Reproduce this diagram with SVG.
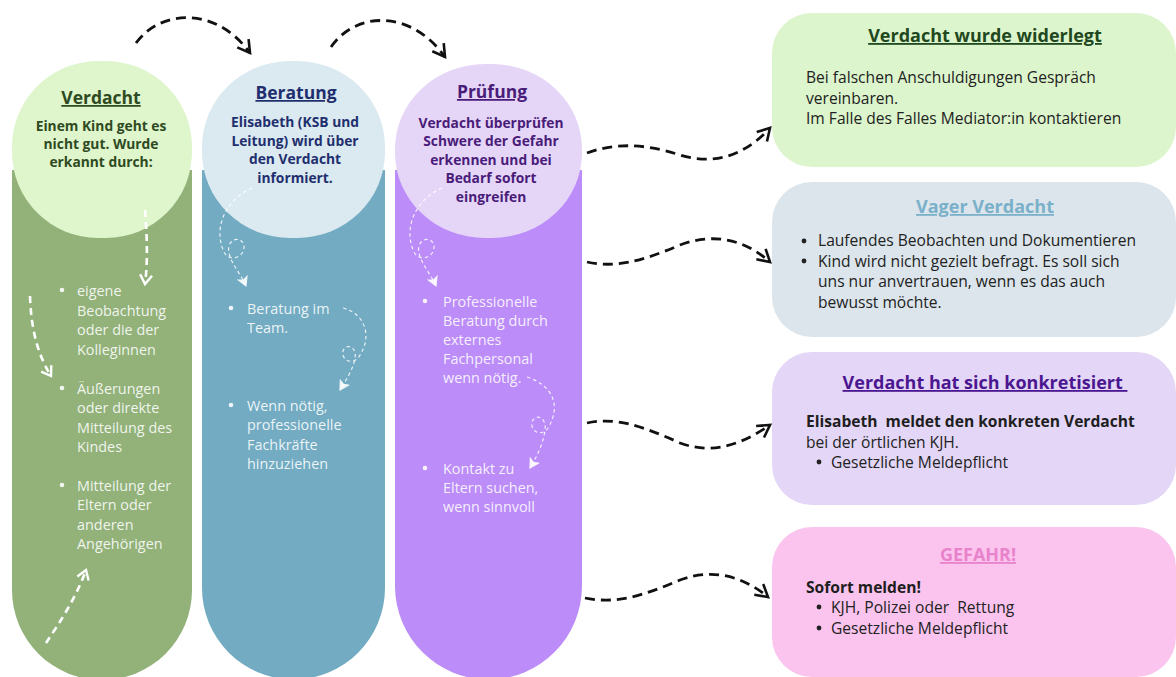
<svg xmlns="http://www.w3.org/2000/svg" width="1176" height="677" viewBox="0 0 1176 677">
<style>
  text { font-family: "Open Sans", "Noto Sans", "DejaVu Sans", sans-serif; }
  .h { font-weight: 700; font-size: 17.5px; text-anchor: middle; text-decoration: underline; }
  .cb { font-weight: 700; font-size: 13.8px; text-anchor: middle; }
  .bl { font-size: 14.4px; fill: #ffffff; fill-opacity: 0.88; }
  .rt { font-weight: 700; font-size: 18px; text-anchor: middle; text-decoration: underline; }
  .rb { font-size: 15.6px; fill: #222222; }
  .rbb { font-size: 15.6px; fill: #1e1e1e; font-weight: 700; }
  .conn { fill: none; stroke: #111111; stroke-width: 2.8; stroke-dasharray: 10 6; stroke-linecap: butt; }
  .wd { fill: none; stroke: #ffffff; stroke-width: 2.6; stroke-dasharray: 7 5; }
  .wt { fill: none; stroke: #ffffff; stroke-opacity: 0.85; stroke-width: 1.2; stroke-dasharray: 3.5 3; }
</style>
<defs>
  <marker id="ah" markerUnits="userSpaceOnUse" markerWidth="20" markerHeight="20" refX="14" refY="8" orient="auto" viewBox="0 0 20 16">
    <path d="M2,1 L14,8 L2,15" fill="none" stroke="#111111" stroke-width="2.6" stroke-linejoin="miter"/>
  </marker>
  <marker id="wh" markerUnits="userSpaceOnUse" markerWidth="16" markerHeight="16" refX="11" refY="7" orient="auto" viewBox="0 0 16 14">
    <path d="M2,1 L11,7 L2,13" fill="none" stroke="#ffffff" stroke-width="2.4"/>
  </marker>
  <marker id="wf" markerUnits="userSpaceOnUse" markerWidth="12" markerHeight="12" refX="8" refY="5" orient="auto" viewBox="0 0 10 10">
    <path d="M0,0 L9,5 L0,10 L2,5 Z" fill="#ffffff" fill-opacity="0.9"/>
  </marker>
</defs>

<rect width="1176" height="677" fill="#ffffff"/>

<!-- Column 1: Verdacht -->
<g id="node-verdacht">
  <path d="M12,170 H192 V590 A90,90 0 0 1 12,590 Z" fill="#92b27a"/>
  <rect x="12" y="61" width="180" height="177" rx="86" ry="86" fill="#dff5cc"/>
  <text class="h" x="101" y="104" fill="#2e4a22">Verdacht</text>
  <text class="cb" x="101" y="131" fill="#2e4a22">Einem Kind geht es</text>
  <text class="cb" x="101" y="149" fill="#2e4a22">nicht gut. Wurde</text>
  <text class="cb" x="101" y="167" fill="#2e4a22">erkannt durch:</text>
  <g class="bl">
    <circle cx="62" cy="290" r="2.3" fill="#ffffff"/>
    <text x="77" y="296">eigene</text>
    <text x="77" y="315.5">Beobachtung</text>
    <text x="77" y="335">oder die der</text>
    <text x="77" y="354.5">Kolleginnen</text>
    <circle cx="62" cy="388" r="2.3" fill="#ffffff"/>
    <text x="77" y="393.5">Äußerungen</text>
    <text x="77" y="413">oder direkte</text>
    <text x="77" y="432.5">Mitteilung des</text>
    <text x="77" y="452">Kindes</text>
    <circle cx="62" cy="485" r="2.3" fill="#ffffff"/>
    <text x="77" y="490.5">Mitteilung der</text>
    <text x="77" y="510">Eltern oder</text>
    <text x="77" y="529.5">anderen</text>
    <text x="77" y="549">Angehörigen</text>
  </g>
  <path class="wd" d="M145,210 C147,235 148,260 145,284" marker-end="url(#wh)"/>
  <path class="wd" d="M30,296 C31,325 36,352 51,376" marker-end="url(#wh)"/>
  <path class="wd" d="M46,643 C60,622 76,598 86,570" marker-end="url(#wh)"/>
</g>

<!-- Column 2: Beratung -->
<g id="node-beratung">
  <path d="M202,170 H385 V588 A91.5,91.5 0 0 1 202,588 Z" fill="#72abc2"/>
  <rect x="202" y="61" width="183" height="177" rx="88" ry="86" fill="#dbe9f1"/>
  <text class="h" x="296" y="99" fill="#1f2f6e">Beratung</text>
  <text class="cb" x="295" y="127" fill="#1f2f6e">Elisabeth (KSB und</text>
  <text class="cb" x="295" y="145.5" fill="#1f2f6e">Leitung) wird über</text>
  <text class="cb" x="295" y="164" fill="#1f2f6e">den Verdacht</text>
  <text class="cb" x="295" y="182.5" fill="#1f2f6e">informiert.</text>
  <g class="bl">
    <circle cx="231" cy="308" r="2.3" fill="#ffffff"/>
    <text x="247" y="313.5">Beratung im</text>
    <text x="247" y="333">Team.</text>
    <circle cx="231" cy="405" r="2.3" fill="#ffffff"/>
    <text x="247" y="410.5">Wenn nötig,</text>
    <text x="247" y="430">professionelle</text>
    <text x="247" y="449.5">Fachkräfte</text>
    <text x="247" y="469">hinzuziehen</text>
  </g>
  <path class="wt" d="M252,188 C228,198 212,226 224,252 C229,262 243,258 244,248 C245,238 232,236 229,246 C226,258 240,272 246,286" marker-end="url(#wf)"/>
  <path class="wt" d="M343,308 C366,314 373,338 358,358 C352,365 341,360 343,351 C346,343 357,346 355,358 C353,370 346,380 340,390" marker-end="url(#wf)"/>
</g>

<!-- Column 3: Prüfung -->
<g id="node-pruefung">
  <path d="M395,170 H582 V586 A93.5,93.5 0 0 1 395,586 Z" fill="#bc8cf8"/>
  <rect x="395" y="64" width="187" height="174" rx="90" ry="85" fill="#e5d6f8"/>
  <text class="h" x="492" y="98" fill="#4a1c79">Prüfung</text>
  <text class="cb" x="491" y="127.5" fill="#4a1c79">Verdacht überprüfen</text>
  <text class="cb" x="491" y="146" fill="#4a1c79">Schwere der Gefahr</text>
  <text class="cb" x="491" y="164.5" fill="#4a1c79">erkennen und bei</text>
  <text class="cb" x="491" y="183" fill="#4a1c79">Bedarf sofort</text>
  <text class="cb" x="491" y="201.5" fill="#4a1c79">eingreifen</text>
  <g class="bl">
    <circle cx="425" cy="301" r="2.3" fill="#ffffff"/>
    <text x="443" y="306.5">Professionelle</text>
    <text x="443" y="325.5">Beratung durch</text>
    <text x="443" y="344.5">externes</text>
    <text x="443" y="363.5">Fachpersonal</text>
    <text x="443" y="382.5">wenn nötig.</text>
    <circle cx="425" cy="468" r="2.3" fill="#ffffff"/>
    <text x="443" y="474">Kontakt zu</text>
    <text x="443" y="493">Eltern suchen,</text>
    <text x="443" y="512">wenn sinnvoll</text>
  </g>
  <path class="wt" d="M442,188 C418,198 402,226 414,252 C419,262 433,258 434,248 C435,238 422,236 419,246 C416,258 430,272 436,286" marker-end="url(#wf)"/>
  <path class="wt" d="M527,377 C552,385 562,405 548,428 C542,437 530,432 532,422 C535,413 547,417 545,430 C543,445 536,458 530,468" marker-end="url(#wf)"/>
</g>

<!-- Right boxes -->
<g id="node-widerlegt">
  <rect x="772" y="13" width="404" height="154" rx="40" fill="#dcf5cc"/>
  <text class="rt" x="985" y="42" fill="#1f4820">Verdacht wurde widerlegt</text>
  <text class="rb" x="806" y="83">Bei falschen Anschuldigungen Gespräch</text>
  <text class="rb" x="806" y="104">vereinbaren.</text>
  <text class="rb" x="806" y="124">Im Falle des Falles Mediator:in kontaktieren</text>
</g>

<g id="node-vager">
  <rect x="772" y="182" width="404" height="155" rx="40" fill="#dbe5eb"/>
  <text class="rt" x="985" y="213" fill="#7ab0c9">Vager Verdacht</text>
  <circle cx="804" cy="241" r="2.4" fill="#222222"/>
  <text class="rb" x="818" y="246">Laufendes Beobachten und Dokumentieren</text>
  <circle cx="804" cy="261" r="2.4" fill="#222222"/>
  <text class="rb" x="818" y="266.5">Kind wird nicht gezielt befragt. Es soll sich</text>
  <text class="rb" x="818" y="287">uns nur anvertrauen, wenn es das auch</text>
  <text class="rb" x="818" y="308">bewusst möchte.</text>
</g>

<g id="node-konkret">
  <rect x="772" y="352" width="404" height="153" rx="40" fill="#e3d6f6"/>
  <text class="rt" x="985" y="389" fill="#4b1690" xml:space="preserve">Verdacht hat sich konkretisiert </text>
  <text class="rbb" x="806" y="427" xml:space="preserve">Elisabeth  meldet den konkreten Verdacht</text>
  <text class="rb" x="806" y="447.5">bei der örtlichen KJH.</text>
  <circle cx="819" cy="462" r="2.4" fill="#222222"/>
  <text class="rb" x="831" y="467.5">Gesetzliche Meldepflicht</text>
</g>

<g id="node-gefahr">
  <rect x="772" y="527" width="404" height="150" rx="40" fill="#fbc4ee"/>
  <text class="rt" x="978" y="561" fill="#e882cb">GEFAHR!</text>
  <text class="rbb" x="806" y="593">Sofort melden!</text>
  <circle cx="819" cy="607" r="2.4" fill="#222222"/>
  <text class="rb" x="831" y="613" xml:space="preserve">KJH, Polizei oder  Rettung</text>
  <circle cx="819" cy="628" r="2.4" fill="#222222"/>
  <text class="rb" x="831" y="634">Gesetzliche Meldepflicht</text>
</g>

<!-- Connectors -->
<g id="connectors">
  <path class="conn" d="M136,43 C160,10 215,5 250,53" marker-end="url(#ah)"/>
  <path class="conn" d="M331,47 C355,12 410,8 445,57" marker-end="url(#ah)"/>
  <path class="conn" d="M587,153 C612,144 640,142 680,155 C715,166 745,155 770,128" marker-end="url(#ah)"/>
  <path class="conn" d="M587,262 C615,268 640,262 680,245 C715,232 745,240 770,262" marker-end="url(#ah)"/>
  <path class="conn" d="M587,423 C615,417 640,425 680,443 C715,456 745,442 770,425" marker-end="url(#ah)"/>
  <path class="conn" d="M585,598 C615,604 640,597 680,580 C715,567 745,578 768,597" marker-end="url(#ah)"/>
</g>
</svg>
